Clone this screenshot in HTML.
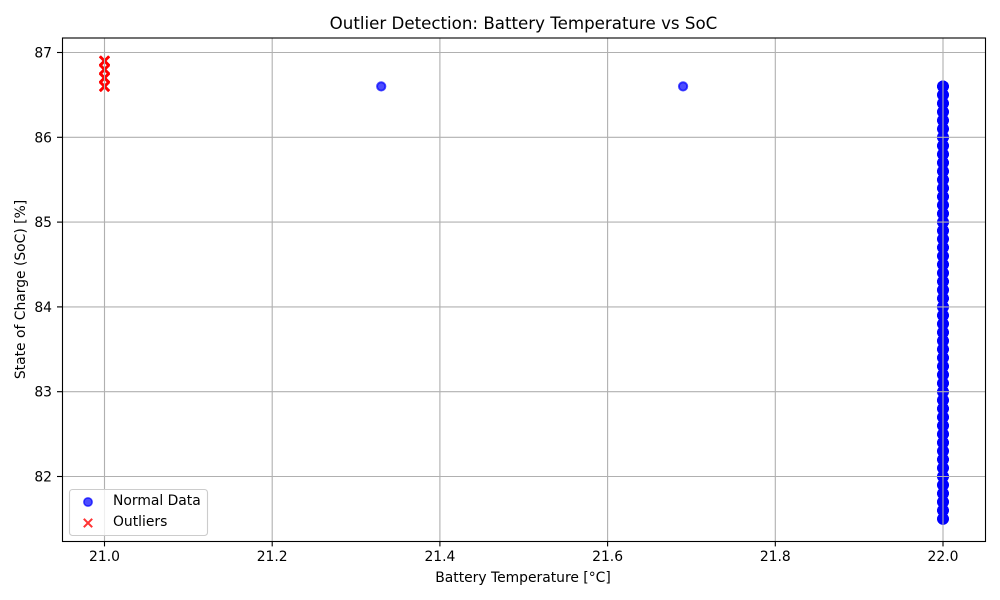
<!DOCTYPE html>
<html>
<head>
<meta charset="utf-8">
<title>Outlier Detection: Battery Temperature vs SoC</title>
<style>
html,body{margin:0;padding:0;background:#fff;}
svg{display:block;}
text{font-family:"DejaVu Sans","Liberation Sans",sans-serif;fill:#000;}
</style>
</head>
<body>
<svg id="chart" xmlns="http://www.w3.org/2000/svg" width="1000" height="600" viewBox="0 0 1000 600">
  <rect x="0" y="0" width="1000" height="600" fill="#fff"/>
  <g id="points"></g>
  <g id="grid"></g>
  <g id="ticks"></g>
  <rect x="62.5" y="38" width="923" height="503.5" fill="none" stroke="#000" stroke-width="1.11"/>
  <text x="523.5" y="29" font-size="16.67" text-anchor="middle">Outlier Detection: Battery Temperature vs SoC</text>
  <text x="523" y="582" font-size="13.89" text-anchor="middle">Battery Temperature [°C]</text>
  <text transform="translate(25,289.5) rotate(-90)" font-size="13.89" text-anchor="middle">State of Charge (SoC) [%]</text>
  <g>
    <rect x="69.5" y="489.5" width="138" height="46" rx="3" ry="3" fill="#fff" fill-opacity="0.8" stroke="#ccc" stroke-width="1.11"/>
    <circle cx="88" cy="502" r="4.17" fill="#0000ff" fill-opacity="0.7" stroke="#0000ff" stroke-opacity="0.7" stroke-width="1.5"/>
    <path d="M83.8 518.8L92.2 527.2M83.8 527.2L92.2 518.8" fill="none" stroke="#ff0000" stroke-opacity="0.8" stroke-width="2.08"/>
    <text x="113" y="505" font-size="13.89">Normal Data</text>
    <text x="113" y="526" font-size="13.89">Outliers</text>
  </g>
</svg>
<script>
var xTickLabels = ["21.0", "21.2", "21.4", "21.6", "21.8", "22.0"];
var yTickLabels = ["82", "83", "84", "85", "86", "87"];
var normalTemp = [21.33, 21.69,
  22, 22, 22, 22, 22, 22, 22, 22, 22, 22,
  22, 22, 22, 22, 22, 22, 22, 22, 22, 22,
  22, 22, 22, 22, 22, 22, 22, 22, 22, 22,
  22, 22, 22, 22, 22, 22, 22, 22, 22, 22,
  22, 22, 22, 22, 22, 22, 22, 22, 22, 22, 22, 22];
var normalSoc = [86.6, 86.6,
  81.5, 81.6, 81.7, 81.8, 81.9, 82.0, 82.1, 82.2, 82.3, 82.4,
  82.5, 82.6, 82.7, 82.8, 82.9, 83.0, 83.1, 83.2, 83.3, 83.4,
  83.5, 83.6, 83.7, 83.8, 83.9, 84.0, 84.1, 84.2, 84.3, 84.4,
  84.5, 84.6, 84.7, 84.8, 84.9, 85.0, 85.1, 85.2, 85.3, 85.4,
  85.5, 85.6, 85.7, 85.8, 85.9, 86.0, 86.1, 86.2, 86.3, 86.4, 86.5, 86.6];
var normalCount = [1, 1,
  6, 6, 6, 6, 6, 6, 6, 6, 6, 6,
  6, 6, 6, 6, 6, 6, 6, 6, 6, 6,
  6, 6, 6, 6, 6, 6, 6, 6, 6, 6,
  6, 6, 6, 6, 6, 6, 6, 6, 6, 6,
  6, 6, 6, 6, 6, 6, 6, 6, 6, 6, 6, 6];
var outlierTemp = [21, 21, 21, 21];
var outlierSoc = [86.6, 86.7, 86.8, 86.9];
var outlierCount = [6, 6, 6, 6];

var NS = "http://www.w3.org/2000/svg";
function xScale(v) { return 104.5 + (v - 21) * 838.5; }
function yScale(v) { return 476.5 - (v - 82) * 84.8; }
function make(tag, attrs, parent) {
  var el = document.createElementNS(NS, tag);
  for (var k in attrs) { el.setAttribute(k, attrs[k]); }
  parent.appendChild(el);
  return el;
}
var pointsG = document.getElementById("points");
var gridG = document.getElementById("grid");
var ticksG = document.getElementById("ticks");

normalSoc.forEach(function (s, i) {
  var radius = normalCount[i] > 1 ? 4.9 : 4.17;
  for (var n = 0; n < normalCount[i]; n++) {
    var c = make("circle", {cx: xScale(normalTemp[i]), cy: yScale(s), r: radius, fill: "#0000ff", "fill-opacity": 0.7, stroke: "#0000ff", "stroke-opacity": 0.7, "stroke-width": 1.9}, pointsG);
    
    
  }
});
outlierSoc.forEach(function (s, i) {
  var x = xScale(outlierTemp[i]), y = yScale(s), h = 4.6;
  for (var n = 0; n < outlierCount[i]; n++) {
    var p = make("path", {d: "M" + (x - h) + " " + (y - h) + "L" + (x + h) + " " + (y + h) + "M" + (x - h) + " " + (y + h) + "L" + (x + h) + " " + (y - h), fill: "none", stroke: "#ff0000", "stroke-opacity": 0.8, "stroke-width": 2.6}, pointsG);
    
    
  }
});
xTickLabels.forEach(function (t) {
  var x = xScale(parseFloat(t));
  var g = make("line", {x1: x, x2: x, y1: 38, y2: 541, stroke: "#b0b0b0", "stroke-width": 1.11}, gridG);
  
  
  var m = make("line", {x1: x, x2: x, y1: 541, y2: 546.4, stroke: "#000", "stroke-width": 1.11}, ticksG);
  
  
  var l = make("text", {x: x, y: 561, "font-size": 13.89, "text-anchor": "middle"}, ticksG);
  l.textContent = t;
  
  
});
yTickLabels.forEach(function (t) {
  var y = yScale(parseFloat(t));
  var g = make("line", {x1: 62, x2: 985, y1: y, y2: y, stroke: "#b0b0b0", "stroke-width": 1.11}, gridG);
  
  
  var m = make("line", {x1: 57, x2: 62, y1: y, y2: y, stroke: "#000", "stroke-width": 1.11}, ticksG);
  
  
  var l = make("text", {x: 52, y: y + 5, "font-size": 13.89, "text-anchor": "end"}, ticksG);
  l.textContent = t;
  
  
});
</script>
</body>
</html>
